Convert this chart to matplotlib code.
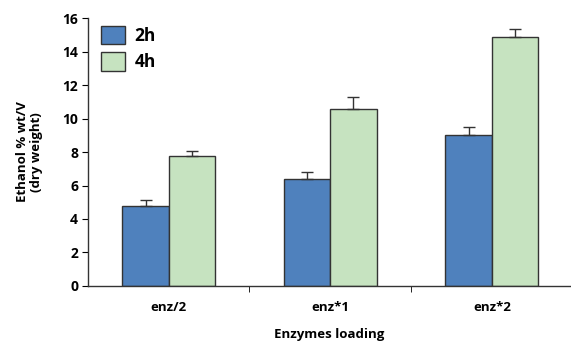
import numpy as np
import matplotlib.pyplot as plt

plt.rcParams['font.family'] = ['Open Sans', 'DejaVu Sans']

GROUPS = ["enz/2", "enz*1", "enz*2"]
SERIES = ["2h", "4h"]
values_2h = [4.75, 6.4, 9.0]
values_4h = [7.78, 10.6, 14.87]
err_2h = [0.38, 0.4, 0.48]
err_4h = [0.28, 0.72, 0.47]

blue = "#4F81BD"
green = "#C6E3C0"
edge = "#333333"

fig = plt.figure(figsize=(5.71, 3.44), dpi=100)
ax = fig.add_axes([0.154, 0.169, 0.846, 0.778])

x = np.arange(len(GROUPS))
w = 0.287
err_kw = dict(ecolor=edge, elinewidth=1.0, capsize=4, capthick=1.0)
ax.bar(x - w / 2, values_2h, w, color=blue, edgecolor=edge, linewidth=1.0,
       yerr=[np.zeros(3), err_2h], error_kw=err_kw, label=SERIES[0])
ax.bar(x + w / 2, values_4h, w, color=green, edgecolor=edge, linewidth=1.0,
       yerr=[np.zeros(3), err_4h], error_kw=err_kw, label=SERIES[1])

ax.set_xlim(-0.5, 2.49)
ax.set_ylim(0, 16)
ax.set_yticks(range(0, 17, 2))
ax.set_xticks(x)
ax.set_xticklabels(GROUPS, fontsize=9.5, fontweight="bold")
ax.set_xticks([0.5, 1.5], minor=True)
ax.tick_params(axis="x", which="major", length=0, pad=11)
ax.tick_params(axis="x", which="minor", length=4, direction="out")
ax.tick_params(axis="y", length=4, labelsize=10, pad=3)
for lab in ax.get_yticklabels():
    lab.set_fontweight("bold")

for s in ["top", "right"]:
    ax.spines[s].set_visible(False)
for s in ["left", "bottom"]:
    ax.spines[s].set_color(edge)
    ax.spines[s].set_linewidth(1.0)

ax.set_ylabel("Ethanol % wt/V\n(dry weight)", fontsize=9.5, fontweight="bold",
              labelpad=14, linespacing=1.1)
ax.set_xlabel("Enzymes loading", fontsize=9.5, fontweight="bold", labelpad=10)

ax.legend(loc="upper left", bbox_to_anchor=(0.01, 1.005), frameon=False,
          prop={"size": 12.5, "weight": "bold"}, handlelength=1.35,
          handleheight=1.3, handletextpad=0.55, labelspacing=0.4,
          borderaxespad=0.1)

fig.savefig("out.png", dpi=100)
